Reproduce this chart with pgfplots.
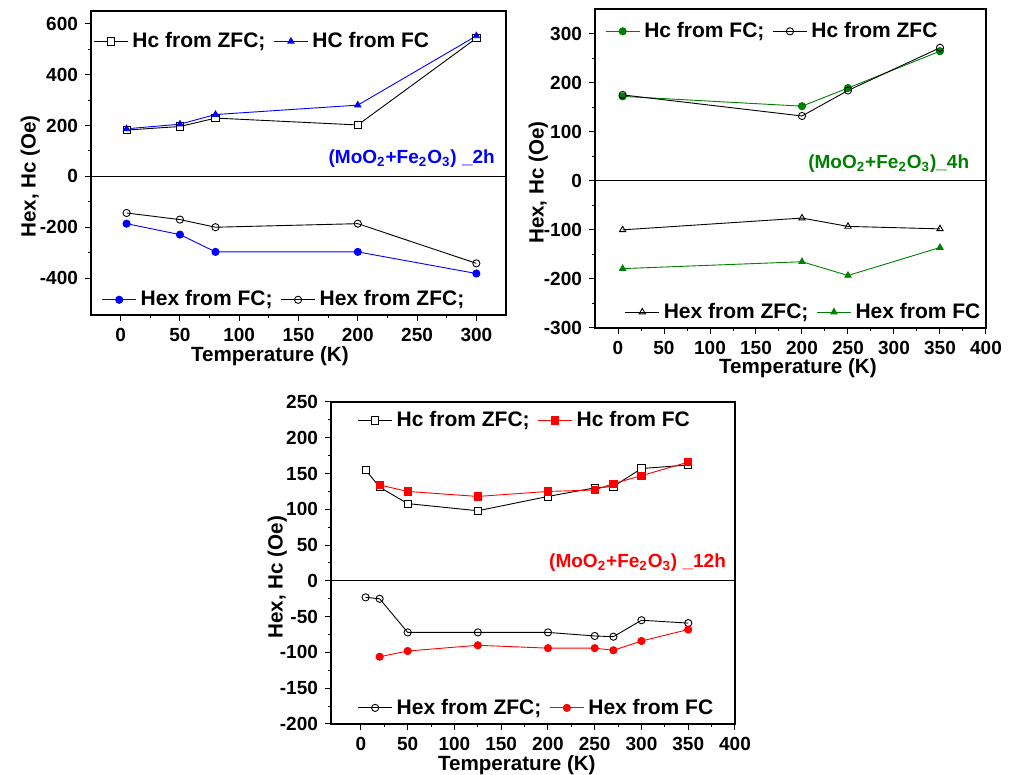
\documentclass[border=0pt]{standalone}
\usepackage{fontspec}
\setmainfont{Liberation Sans}
\usepackage{pgfplots}
\pgfplotsset{compat=1.18}

\definecolor{ogreen}{RGB}{0,128,0}

\pgfplotsset{
  panel/.style={
    scale only axis,
    axis on top,
    tick align=outside,
    xtick pos=bottom, ytick pos=left,
    major tick length=3pt, minor tick length=1.5pt,
    every tick/.style={black, line width=0.5pt},
    axis line style={line width=0.6pt},
    tick label style={font=\bfseries\fontsize{9.5}{10}\selectfont},
    /pgf/number format/assume math mode=true,
    xlabel={Temperature (K)},
    ylabel={Hex, Hc (Oe)},
    xlabel style={font=\bfseries\fontsize{10.3}{12}\selectfont, inner sep=0pt},
    ylabel style={font=\bfseries\fontsize{10.3}{12}\selectfont, inner sep=0pt,
      at={(ticklabel cs:0.456)}},
    legend style={draw=none, fill=none, font=\bfseries\fontsize{10.5}{12}\selectfont,
      legend columns=2, inner sep=1pt,
      /tikz/every even column/.append style={column sep=2pt}},
    legend cell align=left,
  },
  over/.style={scale only axis, hide axis,
    legend style={draw=none, fill=none, font=\bfseries\fontsize{10.5}{12}\selectfont,
      legend columns=2, inner sep=1pt,
      /tikz/every even column/.append style={column sep=2pt}}},
  s/.style={line width=0.45pt, mark size=1.8pt, mark options={solid, line width=0.6pt}},
}

\begin{document}
\begin{tikzpicture}
\path (0pt,0pt) rectangle (507pt,386.5pt);

% ---------- panel 1: 2h ----------
\begin{axis}[panel, at={(45.5pt,229pt)}, anchor=south west,
  width=207.5pt, height=152pt,
  xmin=-25, xmax=325, ymin=-545, ymax=650,
  xtick={0,50,...,300}, minor x tick num=1,
  ytick={-400,-200,0,200,400,600}, minor y tick num=1,
  xlabel style={at={(ticklabel cs:0.431)}}, xlabel shift=-1pt, ylabel shift=-3.5pt,
  legend style={at={(0.0,0.9)}, anchor=west}]
\draw[line width=0.6pt] ({rel axis cs:0,0} |- {axis cs:0,0}) -- ({rel axis cs:1,0} |- {axis cs:0,0});
\addplot[s, black, mark=square*, mark options={fill=white}] coordinates {(5,182)(50,196)(80,229)(200,202)(300,543)};
\addplot[s, blue, mark=triangle*, mark options={fill=blue}] coordinates {(5,187)(50,205)(80,243)(200,280)(300,552)};
\legend{Hc from ZFC;, HC from FC}
\node[anchor=east, blue, font=\bfseries\fontsize{9.5}{11}\selectfont] at (rel axis cs:0.99,0.514) {(MoO\textsubscript{2}+Fe\textsubscript{2}O\textsubscript{3}) \_2h};
\end{axis}
\begin{axis}[over, at={(45.5pt,229pt)}, anchor=south west,
  width=207.5pt, height=152pt,
  xmin=-25, xmax=325, ymin=-545, ymax=650,
  legend style={at={(0.02,0.05)}, anchor=west}]
\addplot[s, blue, mark=*, mark options={fill=blue}] coordinates {(5,-186)(50,-229)(80,-297)(200,-297)(300,-382)};
\addplot[s, black, mark=o, mark options={fill=white}] coordinates {(5,-144)(50,-170)(80,-200)(200,-186)(300,-342)};
\legend{Hex from FC;, Hex from ZFC;}
\end{axis}

% ---------- panel 2: 4h ----------
\begin{axis}[panel, at={(297.5pt,222.5pt)}, anchor=south west,
  width=195.5pt, height=159.5pt,
  xmin=-25, xmax=400, ymin=-300, ymax=350,
  xtick={0,50,...,400}, minor x tick num=1,
  ytick={-300,-200,...,300}, minor y tick num=1,
  xlabel style={at={(ticklabel cs:0.519)}}, xlabel shift=-1.5pt, ylabel shift=-5.5pt,
  legend style={at={(0.02,0.93)}, anchor=west}]
\draw[line width=0.6pt] ({rel axis cs:0,0} |- {axis cs:0,0}) -- ({rel axis cs:1,0} |- {axis cs:0,0});
\addplot[s, ogreen, mark=*, mark options={fill=ogreen}] coordinates {(5,172)(200,152)(250,189)(350,264)};
\addplot[s, black, mark=o, mark options={fill=white}] coordinates {(5,175)(200,132)(250,184)(350,271)};
\legend{Hc from FC;, Hc from ZFC}
\node[anchor=east, ogreen, font=\bfseries\fontsize{9.5}{11}\selectfont] at (rel axis cs:0.975,0.515) {(MoO\textsubscript{2}+Fe\textsubscript{2}O\textsubscript{3})\_4h};
\end{axis}
\begin{axis}[over, at={(297.5pt,222.5pt)}, anchor=south west,
  width=195.5pt, height=159.5pt,
  xmin=-25, xmax=400, ymin=-300, ymax=350,
  legend style={at={(0.07,0.05)}, anchor=west}]
\addplot[s, black, mark=triangle, mark options={fill=white}] coordinates {(5,-100)(200,-76)(250,-93)(350,-98)};
\addplot[s, ogreen, mark=triangle*, mark options={fill=ogreen}] coordinates {(5,-179)(200,-165)(250,-193)(350,-136)};
\legend{Hex from ZFC;, Hex from FC}
\end{axis}

% ---------- panel 3: 12h ----------
\begin{axis}[panel, at={(165.5pt,24.5pt)}, anchor=south west,
  width=202pt, height=161pt,
  xmin=-32, xmax=400, ymin=-200, ymax=250,
  xtick={0,50,...,400}, minor x tick num=1,
  ytick={-200,-150,...,250}, minor y tick num=1,
  xlabel style={at={(ticklabel cs:0.46)}}, xlabel shift=-1pt, ylabel shift=-7pt,
  legend style={at={(0.06,0.943)}, anchor=west}]
\draw[line width=0.6pt] ({rel axis cs:0,0} |- {axis cs:0,0}) -- ({rel axis cs:1,0} |- {axis cs:0,0});
\addplot[s, black, mark=square*, mark options={fill=white}] coordinates {(5,155)(20,131)(50,108)(125,98)(200,118)(250,130)(270,132)(300,157)(350,162)};
\addplot[s, red, mark=square*, mark options={fill=red}] coordinates {(20,134)(50,125)(125,118)(200,125)(250,127)(270,136)(300,147)(350,166)};
\legend{Hc from ZFC;, Hc from FC}
\node[anchor=east, red, font=\bfseries\fontsize{9.5}{11}\selectfont] at (rel axis cs:0.995,0.5) {(MoO\textsubscript{2}+Fe\textsubscript{2}O\textsubscript{3}) \_12h};
\end{axis}
\begin{axis}[over, at={(165.5pt,24.5pt)}, anchor=south west,
  width=202pt, height=161pt,
  xmin=-32, xmax=400, ymin=-200, ymax=250,
  legend style={at={(0.06,0.05)}, anchor=west}]
\addplot[s, black, mark=o, mark options={fill=white}] coordinates {(5,-23)(20,-25)(50,-72)(125,-72)(200,-72)(250,-77)(270,-78)(300,-55)(350,-59)};
\addplot[s, red, mark=*, mark options={fill=red}] coordinates {(20,-106)(50,-98)(125,-90)(200,-94)(250,-94)(270,-97)(300,-84)(350,-68)};
\legend{Hex from ZFC;, Hex from FC}
\end{axis}
\end{tikzpicture}
\end{document}
